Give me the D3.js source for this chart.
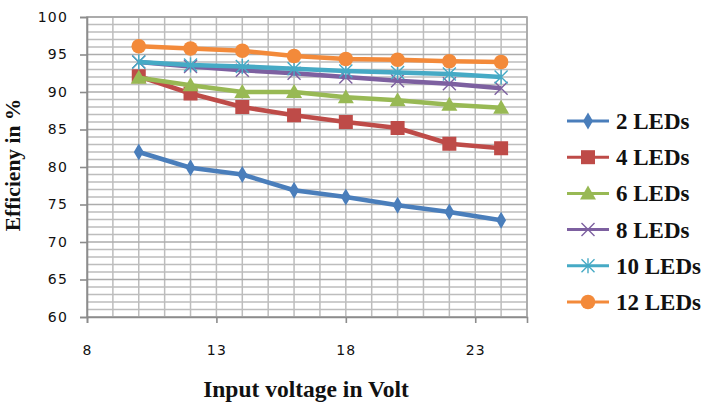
<!DOCTYPE html>
<html>
<head>
<meta charset="utf-8">
<script src="https://cdn.jsdelivr.net/npm/d3@7"></script>
<style>
  body { margin: 0; background: #fff; }
  svg { display: block; }
</style>
</head>
<body>
<svg width="709" height="408"></svg>
<script>
// Data
const voltages = [10, 12, 14, 16, 18, 20, 22, 24];
const seriesNames = ["2 LEDs", "4 LEDs", "6 LEDs", "8 LEDs", "10 LEDs", "12 LEDs"];
const led2 = [82, 79.9, 79, 76.9, 76, 74.9, 74, 72.9];
const led4 = [92.1, 89.8, 88, 86.9, 86, 85.2, 83.1, 82.5];
const led6 = [91.9, 90.9, 90, 90, 89.3, 88.9, 88.3, 87.9];
const led8 = [94, 93.4, 92.9, 92.5, 92, 91.5, 91.1, 90.5];
const led10 = [94, 93.6, 93.4, 93.1, 92.8, 92.6, 92.4, 92];
const led12 = [96.1, 95.8, 95.5, 94.8, 94.4, 94.3, 94.1, 94];
const xTicks = [8, 13, 18, 23];
const yTicks = [60, 65, 70, 75, 80, 85, 90, 95, 100];

const colors = ["#4A7EBB", "#BE4B48", "#98B954", "#7D60A0", "#46AAC5", "#F38A3A"];
const shapes = ["diamond", "square", "triangle", "x", "star", "circle"];
const allSeries = [led2, led4, led6, led8, led10, led12];

const svg = d3.select("svg");
const margin = { left: 87, top: 17, right: 527, bottom: 317 };

const x = d3.scaleLinear().domain([8, 25]).range([margin.left, margin.right]);
const y = d3.scaleLinear().domain([60, 100]).range([margin.bottom, margin.top]);

// Gridlines (minor every 1 unit)
const grid = svg.append("g");
grid.selectAll(".vg")
  .data(d3.range(8, 26))
  .enter().append("line")
  .attr("x1", d => x(d)).attr("x2", d => x(d))
  .attr("y1", y(60)).attr("y2", y(100))
  .attr("stroke", "#BDBDBD").attr("stroke-width", 1.5);
grid.selectAll(".hg")
  .data(d3.range(60, 101))
  .enter().append("line")
  .attr("y1", d => y(d)).attr("y2", d => y(d))
  .attr("x1", x(8)).attr("x2", x(25))
  .attr("stroke", d => d % 5 === 0 ? "#ACACAC" : "#BDBDBD")
  .attr("stroke-width", 1.5);

// Plot border
svg.append("rect")
  .attr("x", x(8)).attr("y", y(100))
  .attr("width", x(25) - x(8)).attr("height", y(60) - y(100))
  .attr("fill", "none").attr("stroke", "#A6A6A6").attr("stroke-width", 1.6);

// Axes
const xAxis = svg.append("g")
  .attr("transform", `translate(0,${y(60)})`)
  .call(d3.axisBottom(x).tickValues(xTicks).tickSize(6).tickPadding(22));
const yAxis = svg.append("g")
  .attr("transform", `translate(${x(8)},0)`)
  .call(d3.axisLeft(y).tickValues(yTicks).tickSize(7).tickPadding(12));
[xAxis, yAxis].forEach(a => {
  a.select(".domain").attr("stroke", "#8C8C8C").attr("stroke-width", 1.6);
  a.selectAll(".tick line").attr("stroke", "#8C8C8C").attr("stroke-width", 1.6);
  a.selectAll("text")
    .attr("font-family", "DejaVu Sans, Verdana, sans-serif")
    .attr("font-size", 14)
    .attr("letter-spacing", 1.2)
    .attr("fill", "#111");
});

// Marker drawing
function drawMarker(g, shape, color, cx, cy) {
  if (shape === "circle") {
    g.append("circle").attr("cx", cx).attr("cy", cy).attr("r", 7.3).attr("fill", color);
  } else if (shape === "square") {
    g.append("rect").attr("x", cx - 7).attr("y", cy - 7).attr("width", 14).attr("height", 14).attr("fill", color);
  } else if (shape === "diamond") {
    g.append("path").attr("d", d3.symbol(d3.symbolDiamond, 85)()).attr("transform", `translate(${cx},${cy})`).attr("fill", color);
  } else if (shape === "triangle") {
    g.append("path").attr("d", `M${cx},${cy - 8}L${cx + 8},${cy + 6}L${cx - 8},${cy + 6}Z`).attr("fill", color);
  } else {
    const s = 6.5;
    const p = `M${cx - s},${cy - s}L${cx + s},${cy + s}M${cx - s},${cy + s}L${cx + s},${cy - s}` +
      (shape === "star" ? `M${cx},${cy - s - 1}L${cx},${cy + s + 1}` : "");
    g.append("path").attr("d", p).attr("stroke", color).attr("stroke-width", 1.4).attr("fill", "none");
  }
}

// Series
const line = d3.line().x((d, i) => x(voltages[i])).y(d => y(d));
allSeries.forEach((vals, si) => {
  const g = svg.append("g");
  g.append("path")
    .datum(vals)
    .attr("d", line)
    .attr("fill", "none")
    .attr("stroke", colors[si])
    .attr("stroke-width", 4.5)
    .attr("stroke-linejoin", "round");
  vals.forEach((v, i) => drawMarker(g, shapes[si], colors[si], x(voltages[i]), y(v)));
});

// Axis titles
svg.append("text")
  .attr("x", 306).attr("y", 397)
  .attr("text-anchor", "middle")
  .attr("font-family", "Liberation Serif, Times New Roman, serif")
  .attr("font-weight", "bold").attr("font-size", 23.5)
  .attr("fill", "#111")
  .text("Input voltage in Volt");
svg.append("text")
  .attr("transform", "translate(20,165) rotate(-90)")
  .attr("text-anchor", "middle")
  .attr("font-family", "Liberation Serif, Times New Roman, serif")
  .attr("font-weight", "bold").attr("font-size", 21.5)
  .attr("fill", "#111")
  .text("Efficieny in %");

// Legend
const legend = svg.append("g");
seriesNames.forEach((name, i) => {
  const ly = 121 + i * 36.2;
  legend.append("line")
    .attr("x1", 567).attr("x2", 609).attr("y1", ly).attr("y2", ly)
    .attr("stroke", colors[i]).attr("stroke-width", 3);
  drawMarker(legend, shapes[i], colors[i], 588, ly);
  legend.append("text")
    .attr("x", 616).attr("y", ly + 8)
    .attr("font-family", "Liberation Serif, Times New Roman, serif")
    .attr("font-weight", "bold").attr("font-size", 23)
    .attr("fill", "#111")
    .text(name);
});
</script>
</body>
</html>
